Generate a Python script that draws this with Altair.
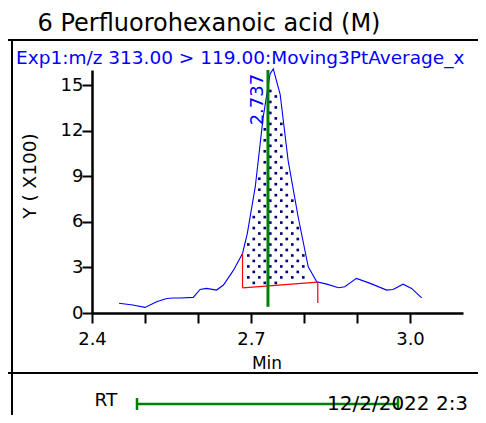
import altair as alt
import pandas as pd
import numpy as np

FONT = "DejaVu Sans"

# ---- data ----
curve_x = [2.451, 2.477, 2.500, 2.522, 2.541, 2.553, 2.566, 2.591, 2.604, 2.616, 2.635,
           2.648, 2.667, 2.684, 2.693, 2.708, 2.723, 2.736, 2.742, 2.755, 2.770, 2.789,
           2.808, 2.824, 2.843, 2.865, 2.877, 2.899, 2.925, 2.956, 2.968, 2.987, 3.003, 3.022]
curve_y = [0.64, 0.53, 0.37, 0.74, 0.96, 0.99, 0.99, 1.03, 1.55, 1.62, 1.51,
           1.84, 2.82, 3.92, 5.23, 8.30, 12.90, 15.74, 16.07, 14.40, 10.05, 6.32,
           3.04, 2.06, 1.90, 1.66, 1.73, 2.28, 1.95, 1.51, 1.55, 1.90, 1.62, 1.00]

base_x = [2.684, 2.826]
base_y = [1.66, 2.03]
edge_x = [2.684, 2.826]
edge_lo = [1.66, 0.66]
edge_hi = [3.92, 2.03]

rt_x = [2.732]
rt_lo = [0.41]
rt_hi = [16.0]
rt_label = ["2.737"]
rt_label_y = [15.75]

x_ticks = [2.4, 2.5, 2.6, 2.7, 2.8, 2.9, 3.0]
y_ticks = [0, 3, 6, 9, 12, 15]

title_text = "6 Perfluorohexanoic acid (M)"
header_text = "Exp1:m/z 313.00 > 119.00:Moving3PtAverage_x"
y_title = "Y ( X100)"
x_title = "Min"
date_text = "12/2/2022 2:3"

# ---- tables ----
curve = pd.DataFrame({"x": curve_x, "y": curve_y})
base = pd.DataFrame({"x": base_x, "y": base_y})
edges = pd.DataFrame({"x": edge_x, "y": edge_lo, "y2": edge_hi})
rt = pd.DataFrame({"x": rt_x, "y": rt_lo, "y2": rt_hi, "ly": rt_label_y, "t": rt_label})

# dotted texture of the integrated peak area (fill pattern)
dx, dy = 0.02075, 0.361
x0, y0 = 2.6949, 4.51
pts = []
for j in range(-20, 60):
    yy = y0 + j * dy
    off = (dx / 2) if (j % 2) else 0.0
    for i in range(-20, 20):
        xx = x0 + off + i * dx
        if xx < base_x[0] + 0.004 or xx > base_x[1] - 0.004:
            continue
        b = np.interp(xx, base_x, base_y)
        c = min(np.interp(xx - 0.004, curve_x, curve_y), np.interp(xx + 0.004, curve_x, curve_y))
        if b + 0.12 < yy < c - 0.12:
            pts.append({"x": xx, "y": yy})
dots = pd.DataFrame(pts)

xs = alt.Scale(domain=[2.4, 3.1], nice=False, zero=False)
ys = alt.Scale(domain=[0, 16], nice=False, zero=False)

xaxis = alt.Axis(values=x_ticks, title=None, grid=False, tickSize=10, tickWidth=2,
                 domainWidth=2.5, domainColor="black", tickColor="black", labelFlush=False,
                 labelFont=FONT, labelFontSize=18, labelColor="black", labelPadding=7,
                 labelExpr="round(datum.value*10) % 3 == 0 ? format(datum.value, '.1f') : ''")
yaxis = alt.Axis(values=y_ticks, title=None, grid=False, tickSize=10, tickWidth=2,
                 domainWidth=2.5, domainColor="black", tickColor="black", labelFlush=False,
                 labelFont=FONT, labelFontSize=18, labelColor="black", labelPadding=-1)

X = alt.X("x:Q", scale=xs, axis=xaxis)
Y = alt.Y("y:Q", scale=ys, axis=yaxis)

line = alt.Chart(curve).mark_line(color="#0000ff", strokeWidth=1.1).encode(
    x=X, y=Y, order="x:Q")

dot_layer = alt.Chart(dots).mark_square(size=7, color="#000080", opacity=1).encode(x=X, y=Y)

base_layer = alt.Chart(base).mark_line(color="#ff0000", strokeWidth=1.2).encode(x=X, y=Y)

edge_layer = alt.Chart(edges).mark_rule(color="#ff0000", strokeWidth=1.2).encode(
    x=X, y=Y, y2="y2:Q")

rt_rule = alt.Chart(rt).mark_rule(color="#008000", strokeWidth=3).encode(
    x=X, y=Y, y2="y2:Q")

rt_text = alt.Chart(rt).mark_text(color="#0000ff", font=FONT, fontSize=18, angle=270,
                                  align="right", baseline="bottom", dy=-1).encode(
    x=X, y=alt.Y("ly:Q", scale=ys, axis=yaxis), text="t:N")

one = pd.DataFrame({"a": [0]})


def txt(s, x, y, size, color="black", align="left", baseline="alphabetic", angle=0):
    kw = dict(font=FONT, fontSize=size, color=color, align=align, baseline=baseline)
    if angle:
        kw["angle"] = angle
    return alt.Chart(one).mark_text(**kw).encode(
        x=alt.value(x), y=alt.value(y), text=alt.value(s))


def hrule(x1, x2, y, color="black", w=2):
    return alt.Chart(one).mark_rule(color=color, strokeWidth=w).encode(
        x=alt.value(x1), x2=alt.value(x2), y=alt.value(y))


def vrule(x, y1, y2, color="black", w=2):
    return alt.Chart(one).mark_rule(color=color, strokeWidth=w).encode(
        x=alt.value(x), y=alt.value(y1), y2=alt.value(y2))


deco = [
    txt(title_text, 117, -39, 24, align="center"),
    hrule(-84, 394, -30),
    vrule(-80, -30, 345),
    hrule(-84, 394, 303),
    txt(header_text, -76, -6, 18.5, color="#0000ff"),
    txt(y_title, -62, 106, 18.5, align="center", baseline="middle", angle=270),
    txt(x_title, 175, 294, 17, align="center", baseline="middle"),
    txt("RT", 14, 330, 18.5, align="center", baseline="middle"),
    hrule(45, 306, 334, color="#008000", w=2.5),
    vrule(45, 328, 340, color="#008000", w=2.5),
    vrule(306, 328, 340, color="#008000", w=2.5),
    txt(date_text, 235, 344, 20, baseline="bottom"),
]

chart = alt.layer(dot_layer, line, base_layer, edge_layer, rt_rule, rt_text, *deco).properties(
    width=371, height=243,
    autosize=alt.AutoSizeParams(type="none"),
    padding={"left": 84, "top": 62, "right": 15, "bottom": 102},
).configure_view(stroke=None)

chart.save("out.html", embed_options={"renderer": "svg", "actions": False})
